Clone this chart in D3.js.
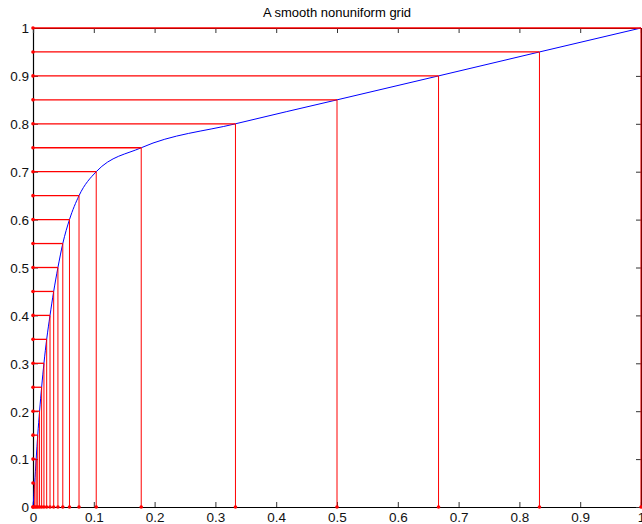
<!DOCTYPE html>
<html>
<head>
<meta charset="utf-8">
<script src="https://cdn.jsdelivr.net/npm/d3@7"></script>
<style>
  body { margin: 0; background: #fff; }
  svg { display: block; font-family: "Liberation Sans", Arial, Helvetica, sans-serif; }
</style>
</head>
<body>
<div id="chart"></div>
<script>
// grid points
var gridX = [0, 0.0028, 0.0052, 0.0078, 0.0108, 0.0142, 0.018, 0.0225, 0.028, 0.034,
             0.041, 0.049, 0.060, 0.0757, 0.104, 0.178, 0.333, 0.5, 0.667, 0.833, 1];
var gridY = [0, 0.05, 0.1, 0.15, 0.2, 0.25, 0.3, 0.35, 0.4, 0.45,
             0.5, 0.55, 0.6, 0.65, 0.7, 0.75, 0.8, 0.85, 0.9, 0.95, 1];
var tickValues = [0, 0.1, 0.2, 0.3, 0.4, 0.5, 0.6, 0.7, 0.8, 0.9, 1];
var title = 'A smooth nonuniform grid';

var pts = gridX.map(function(x, i) { return {x: x, y: gridY[i]}; });

var W = 642, H = 524;
var margin = {top: 28, right: 1, bottom: 17, left: 33};
var width = W - margin.left - margin.right,
    height = H - margin.top - margin.bottom;

var svg = d3.select('#chart').append('svg')
    .attr('width', W)
    .attr('height', H);

var g = svg.append('g')
    .attr('transform', 'translate(' + margin.left + ',' + margin.top + ')');

var x = d3.scaleLinear().domain([0, 1]).range([0, width]);
var y = d3.scaleLinear().domain([0, 1]).range([height, 0]);

var fmt = function(d) { return d3.format('')(+d.toFixed(1)); };

// axes, ticks inside on all four sides
var axBottom = g.append('g').attr('transform', 'translate(0,' + height + ')')
    .call(d3.axisBottom(x).tickValues(tickValues).tickSize(-5).tickPadding(5).tickFormat(fmt));
var axLeft = g.append('g')
    .call(d3.axisLeft(y).tickValues(tickValues).tickSize(-5).tickPadding(4).tickFormat(fmt));
var axTop = g.append('g')
    .call(d3.axisTop(x).tickValues(tickValues).tickSize(-5).tickFormat(''));
var axRight = g.append('g').attr('transform', 'translate(' + width + ',0)')
    .call(d3.axisRight(y).tickValues(tickValues).tickSize(-5).tickFormat(''));

[axBottom, axLeft, axTop, axRight].forEach(function(a) {
    a.select('.domain').attr('stroke', '#000').attr('stroke-width', 1.2);
    a.selectAll('.tick line').attr('stroke', '#333');
    a.selectAll('.tick text').attr('fill', '#111').style('font-size', '13.5px');
});
axLeft.selectAll('.tick text').attr('dy', '0.36em');

// the curve
var line = d3.line()
    .x(function(d) { return x(d.x); })
    .y(function(d) { return y(d.y); })
    .curve(d3.curveMonotoneX);

g.append('path')
    .datum(pts)
    .attr('fill', 'none')
    .attr('stroke', '#0000ff')
    .attr('stroke-width', 1)
    .attr('d', line);

// horizontal lines from the y axis to the curve
g.selectAll('.hline')
    .data(pts)
    .enter().append('line')
    .classed('hline', true)
    .attr('x1', x(0))
    .attr('x2', function(d) { return x(d.x); })
    .attr('y1', function(d) { return y(d.y); })
    .attr('y2', function(d) { return y(d.y); })
    .attr('stroke', '#ff0000')
    .attr('stroke-width', 1.3);

// vertical lines from the x axis to the curve
g.selectAll('.vline')
    .data(pts)
    .enter().append('line')
    .classed('vline', true)
    .attr('x1', function(d) { return x(d.x); })
    .attr('x2', function(d) { return x(d.x); })
    .attr('y1', y(0))
    .attr('y2', function(d) { return y(d.y); })
    .attr('stroke', '#ff0000')
    .attr('stroke-width', 1);

// dots where the lines meet the axes
g.selectAll('.ydot')
    .data(pts)
    .enter().append('circle')
    .attr('cx', x(0))
    .attr('cy', function(d) { return y(d.y); })
    .attr('r', 1.8)
    .attr('fill', '#ff0000');

g.selectAll('.xdot')
    .data(pts)
    .enter().append('circle')
    .attr('cx', function(d) { return x(d.x); })
    .attr('cy', y(0))
    .attr('r', 1.8)
    .attr('fill', '#ff0000');

svg.append('text')
    .attr('x', margin.left + width / 2)
    .attr('y', 17)
    .attr('text-anchor', 'middle')
    .style('font-size', '13px')
    .attr('fill', '#000')
    .text(title);
</script>
</body>
</html>
